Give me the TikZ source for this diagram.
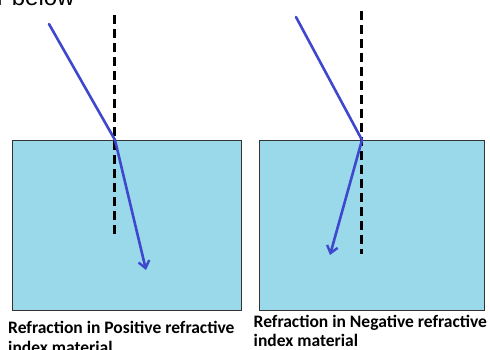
\documentclass[tikz,border=0pt]{standalone}
\usepackage{fontspec}
\setmainfont{Carlito}
\newfontfamily\arialf{Liberation Sans}
\usetikzlibrary{arrows.meta}
\definecolor{medium}{HTML}{99D9EA}
\definecolor{raycol}{HTML}{3F48CC}
\tikzset{
  box/.style={draw=black!80, line width=1pt, fill=medium, inner sep=0pt, anchor=north west},
  normal/.style={draw=black, line width=3pt, dash pattern=on 9pt off 5pt},
  ray/.style={draw=raycol, line width=2.6pt, line join=round, line cap=round},
  tip/.style={-{Straight Barb[length=7pt,width=11pt,line width=2.4pt]}},
  caption/.style={anchor=base west, inner sep=0pt, font=\fontsize{17.5}{20}\selectfont\bfseries},
}
\begin{document}
\begin{tikzpicture}[x=1pt,y=-1pt]
\clip (0,0) rectangle (490,349);
\fill[white] (0,0) rectangle (490,349);
% partial text at top
\node[anchor=base west, inner sep=0pt, font=\arialf\fontsize{24}{30}\selectfont] (toptext) at (-3,5.5) {r below};
% left panel
\node[box, minimum width=229pt, minimum height=170pt] (boxL) at (11.5,140) {};
\coordinate (nLt) at (114,15);
\coordinate (nLb) at (114,238);
\draw[normal] (nLt) -- (nLb);
\coordinate (inL) at (49,24);
\coordinate (hitL) at (115,140);
\coordinate (endL) at (146,270);
\draw[ray, tip] (inL) -- (hitL) -- (endL);
\node[caption] (capL1) at (8,333) {Refraction in Positive refractive};
\node[caption] (capL2) at (8,353) {index material};
% right panel
\node[box, minimum width=225pt, minimum height=170pt] (boxR) at (259,140) {};
\coordinate (nRt) at (361,11);
\coordinate (nRb) at (361,254);
\draw[normal] (nRt) -- (nRb);
\coordinate (inR) at (296,17);
\coordinate (hitR) at (362,140);
\coordinate (endR) at (330,255);
\draw[ray, tip] (inR) -- (hitR) -- (endR);
\node[caption] (capR1) at (253.5,327) {Refraction in Negative refractive};
\node[caption] (capR2) at (253.5,346.5) {index material};
\end{tikzpicture}
\end{document}
